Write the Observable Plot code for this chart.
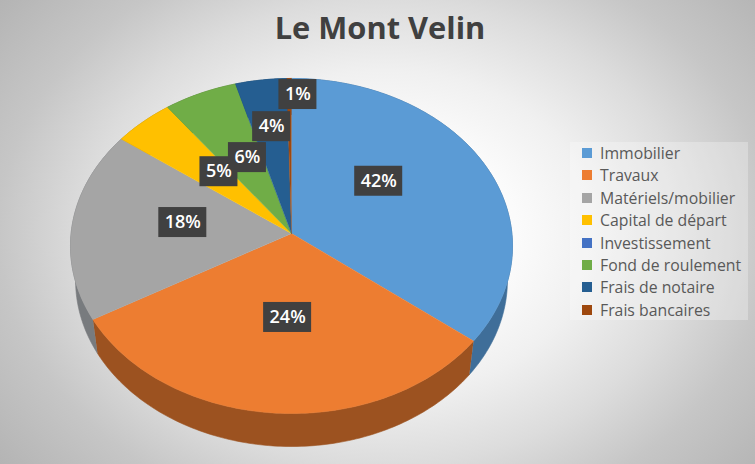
<!DOCTYPE html>
<html>
<head>
<meta charset="utf-8">
<script src="https://cdn.jsdelivr.net/npm/d3@7"></script>
<script src="https://cdn.jsdelivr.net/npm/@observablehq/plot@0.6"></script>
<style>
  html, body { margin: 0; padding: 0; }
  #stage {
    position: relative; width: 755px; height: 464px; overflow: hidden;
    font-family: "Open Sans", sans-serif;
    background: radial-gradient(ellipse 489px 376px at 385px 232px, #ffffff 0%, #fbfbfb 27%, #f0f0f0 43%, #dcdcdc 62%, #c6c6c6 79%, #b4b4b4 100%);
  }
  #title {
    position: absolute; left: 0; top: 5px; width: 760px; text-align: center;
    font-size: 30.8px; line-height: 44px; font-weight: 700; color: #404040;
  }
  #legend {
    position: absolute; left: 570px; top: 142px; width: 178px; height: 178px;
    background: rgba(255,255,255,0.28); box-sizing: border-box; padding: 0;
  }
  .row { position: absolute; left: 0; height: 22px; line-height: 22px; font-size: 15.8px; color: #595959; white-space: nowrap; }
  .sw { position: absolute; left: 12px; top: 6px; width: 10px; height: 10px; }
  .lab { position: absolute; left: 30px; top: 0; }
  svg { display: block; }
</style>
</head>
<body>
<div id="stage">
  <div id="plot"></div>
  <div id="title">Le Mont Velin</div>
  <div id="legend"></div>
</div>
<script>
const categories = ["Immobilier","Travaux","Matériels/mobilier","Capital de départ","Investissement","Fond de roulement","Frais de notaire","Frais bancaires"];
// the percentages printed on the chart
const printedPercent = [42, 24, 18, 5, 0, 6, 4, 1];
// the share of the circle each slice really occupies in the picture
const drawnShare = [35.56, 31.17, 18.36, 4.75, 0, 5.78, 4.03, 0.36];
const faceColors = ["#5b9bd5","#ed7d31","#a5a5a5","#ffc000","#4472c4","#70ad47","#255e91","#9e480e"];
const wallColors = ["#3f6e99","#9c5220","#787b7e","#b38600","#2f5088","#4f7a32","#1a4266","#6f3209"];
// label placement inside the pie, polar (degrees clockwise from top, fraction of radius)
const labelAngle = [51.6, 182, 277.6, 318.4, 0, 336.3, 352, 2];
const labelRadius = [0.517, 0.486, 0.5, 0.51, 0, 0.515, 0.68, 0.89];

const W = 755, H = 464;
const apexX = 291, apexY = 233, radiusX = 220.4, radiusY = 166.6, tilt = 0.0746;

// perspective view of a point on the pie's top face
function face(angle, r = 1) {
  const u = r * Math.sin(angle), v = r * Math.cos(angle), w = 1 + tilt * v;
  return {x: u / w, y: v / w};
}
// the matching point on the bottom rim
function rim(angle) {
  const p = face(angle);
  return {x: 0.977 * p.x, y: 0.991 * p.y - 0.2077};
}
function arc(a0, a1, fn) {
  const n = Math.max(1, Math.ceil((a1 - a0) / (Math.PI / 180)));
  return d3.range(n + 1).map(i => fn(a0 + (a1 - a0) * i / n));
}

const arcs = d3.pie().sort(null).value(d => d)(drawnShare);
const visible = arcs.map((a, i) => ({a, i})).filter(d => drawnShare[d.i] > 0);

const walls = visible.map(({a, i}) => Plot.line(
  [...arc(a.startAngle, a.endAngle, face), ...arc(a.startAngle, a.endAngle, rim).reverse()],
  {x: "x", y: "y", fill: wallColors[i], stroke: wallColors[i], strokeWidth: 0.6}
));
const faces = visible.map(({a, i}) => Plot.line(
  [{x: 0, y: 0}, ...arc(a.startAngle, a.endAngle, face)],
  {x: "x", y: "y", fill: faceColors[i], stroke: faceColors[i], strokeWidth: 0.5}
));

const labels = categories.map((c, i) => {
  const p = face(labelAngle[i] * Math.PI / 180, labelRadius[i]);
  const text = printedPercent[i] + "%";
  const halfW = (text.length === 3 ? 24 : 19) / radiusX, halfH = 15 / radiusY;
  return {text, value: printedPercent[i], x: p.x, y: p.y, x1: p.x - halfW, x2: p.x + halfW, y1: p.y - halfH, y2: p.y + halfH};
}).filter(d => d.value > 0);

const chart = Plot.plot({
  width: W, height: H,
  marginTop: 0, marginRight: 0, marginBottom: 0, marginLeft: 0,
  style: {background: "transparent", fontFamily: "'Open Sans', sans-serif"},
  x: {axis: null, domain: [-apexX / radiusX, (W - apexX) / radiusX], range: [0, W]},
  y: {axis: null, domain: [apexY / radiusY, (apexY - H) / radiusY], range: [0, H]},
  marks: [
    ...walls,
    ...faces,
    Plot.rect(labels, {x1: "x1", x2: "x2", y1: "y1", y2: "y2", fill: "#404040", inset: 0}),
    Plot.text(labels, {x: "x", y: "y", text: "text", fill: "#ffffff", fontSize: 18, fontWeight: 600, fontFamily: "'Open Sans', sans-serif"})
  ]
});
document.getElementById("plot").appendChild(chart);

const legend = document.getElementById("legend");
categories.forEach((c, i) => {
  const row = document.createElement("div");
  row.className = "row";
  row.style.top = (0 + i * 22.4) + "px";
  const sw = document.createElement("span");
  sw.className = "sw"; sw.style.background = faceColors[i];
  const lab = document.createElement("span");
  lab.className = "lab"; lab.textContent = c;
  row.append(sw, lab);
  legend.appendChild(row);
});
</script>
</body>
</html>
